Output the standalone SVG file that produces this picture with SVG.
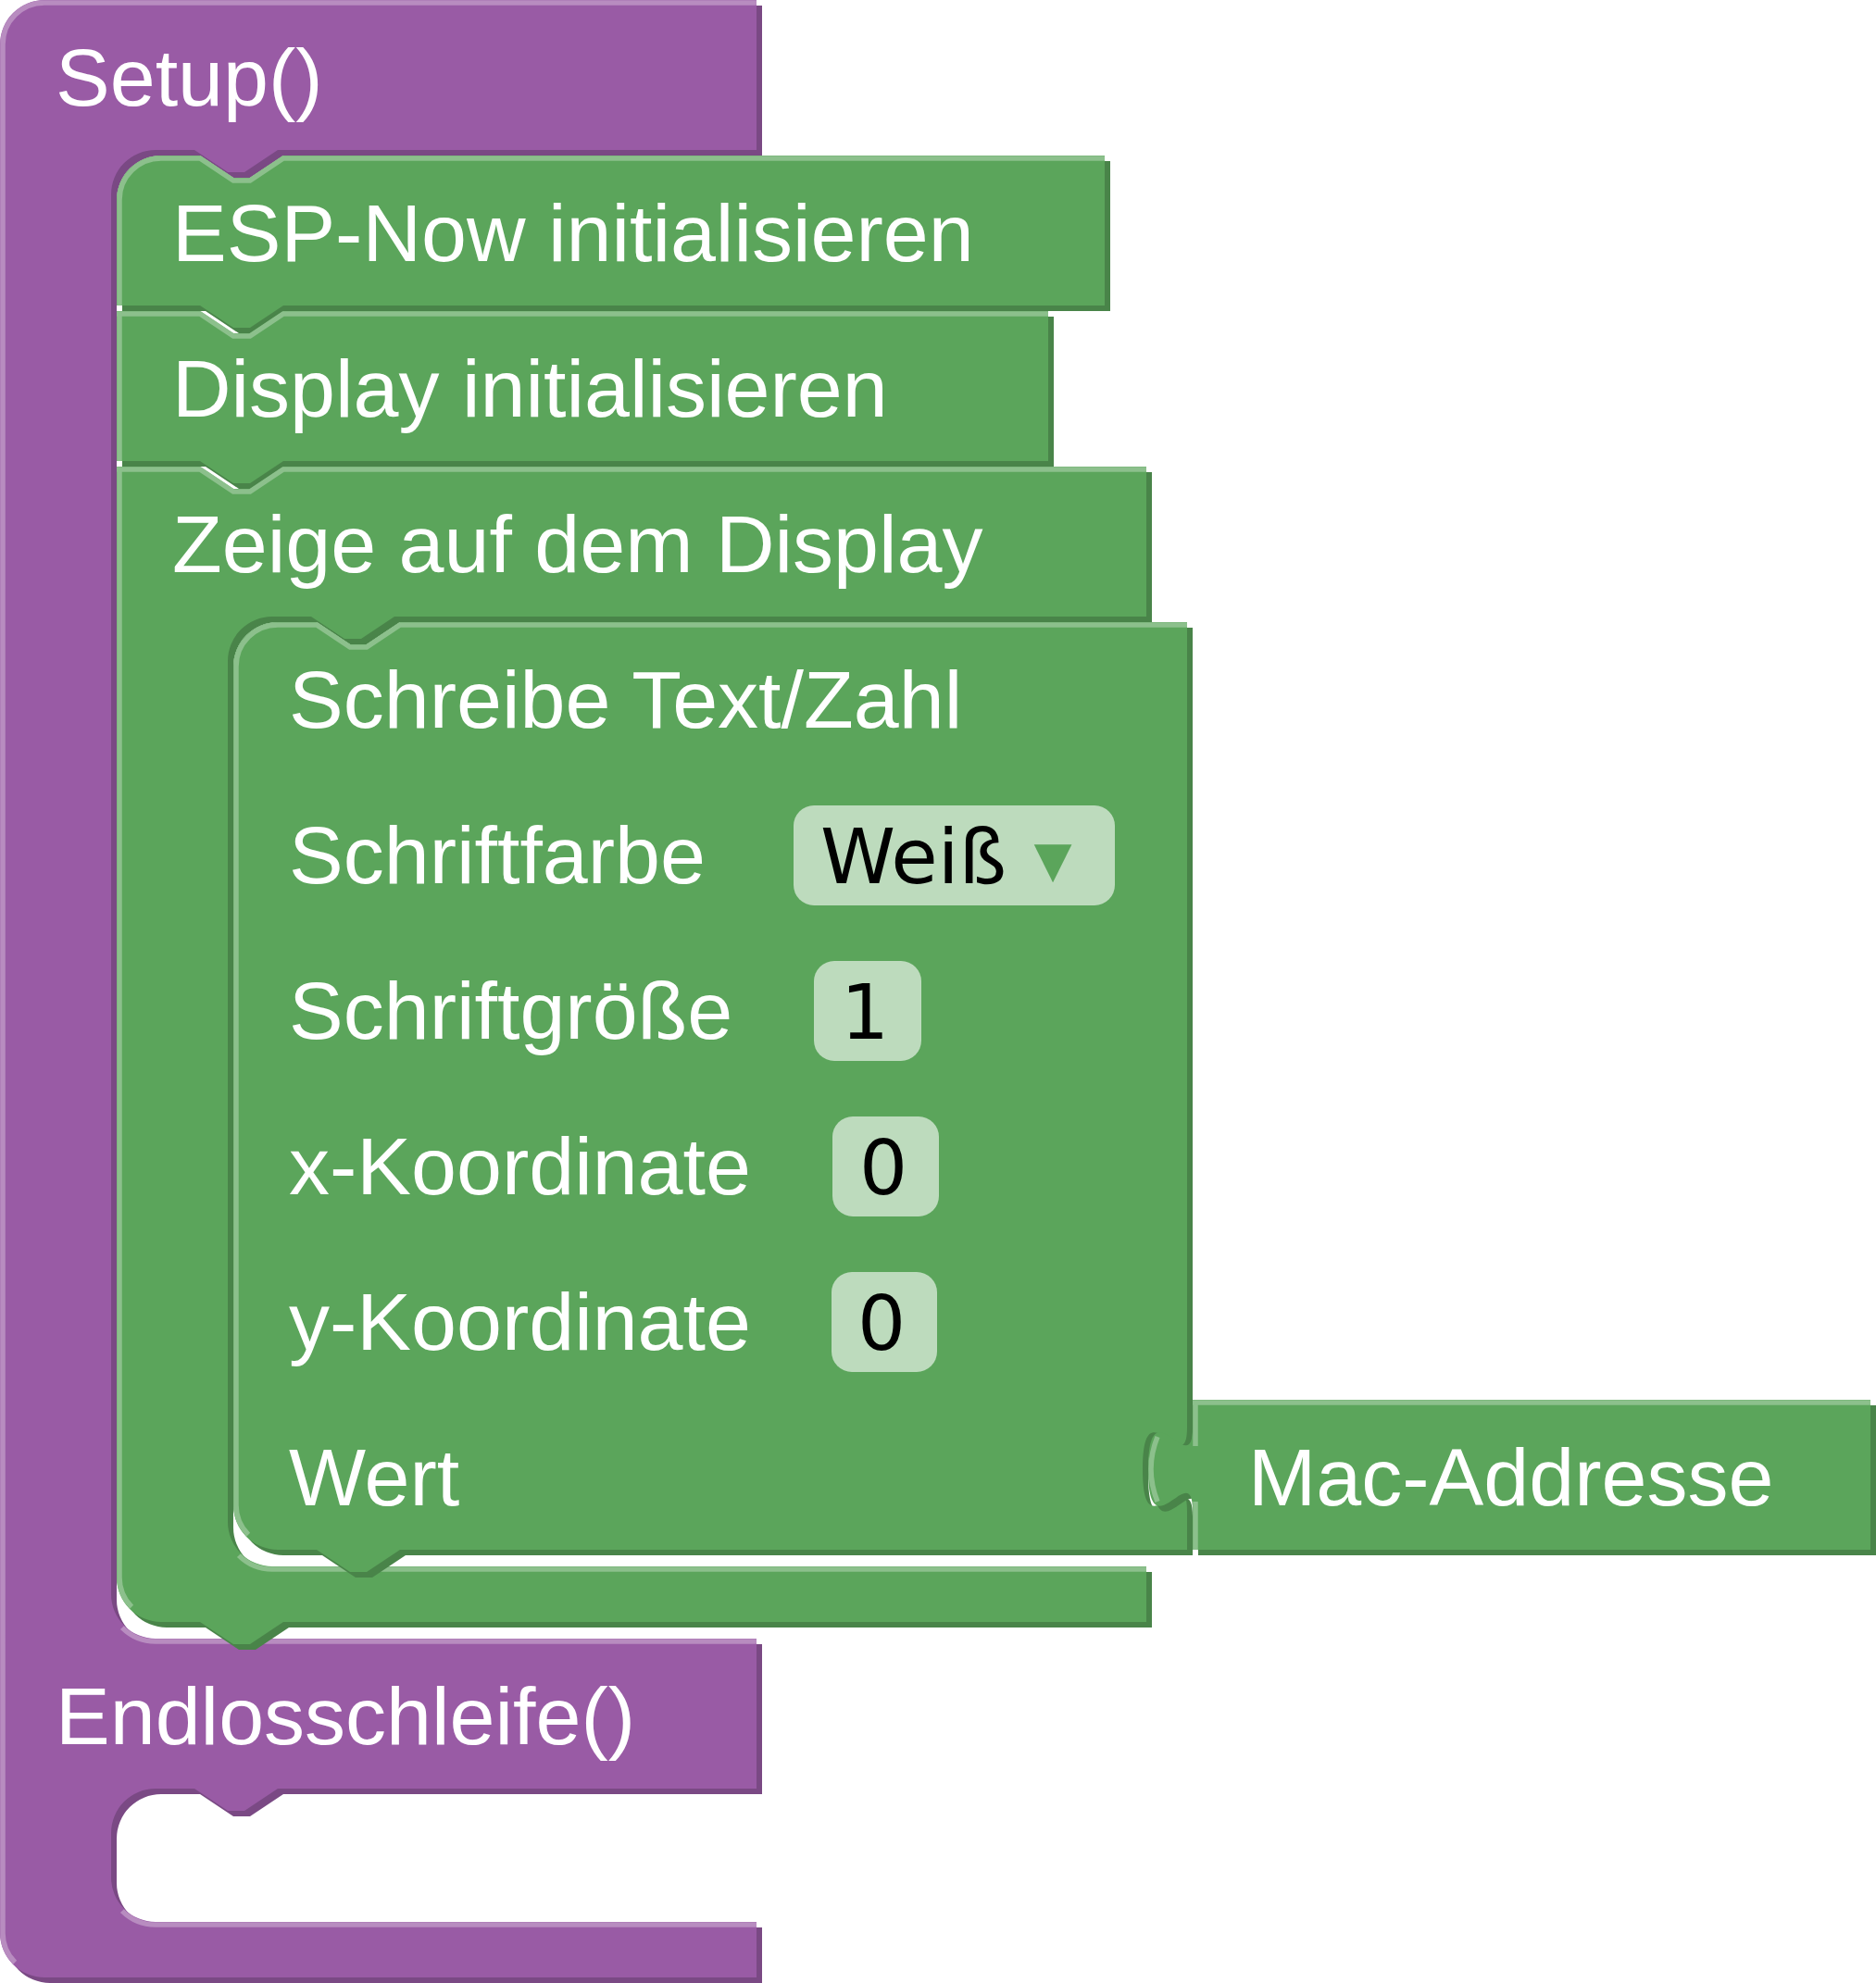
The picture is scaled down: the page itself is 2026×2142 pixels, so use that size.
<svg xmlns="http://www.w3.org/2000/svg" width="2026" height="2142" viewBox="0 0 2026 2142">
<style>
.pm{fill:#995ba5}
.pk{fill:#7a4984}
.ph{fill:none;stroke:#b88cc0;stroke-width:5.5}
.gm{fill:#5ba55b}
.gk{fill:#498449}
.gh{fill:none;stroke:#8cc08c;stroke-width:5.5}
.lbl{font-family:"Liberation Sans",Arial,sans-serif;font-size:88px;fill:#ffffff}
.fld{font-family:"DejaVu Sans","Liberation Sans",sans-serif;font-size:82px;fill:#000000}
.fbox{fill:#bddbbd}
.arr{font-family:"DejaVu Sans",sans-serif;font-size:82px;fill:#5ba55b}
</style>
<rect width="2026" height="2142" fill="#ffffff"/>
<defs>
<path id="setupShape" d="M 0,48 A 48 48 0 0 1 48,0 H 817 V 162 H 300 l -36,24 h -18 l -36,-24 H 168 A 48 48 0 0 0 120,210 V 1722 A 48 48 0 0 0 168,1770 H 817 V 1932 H 300 l -36,24 h -18 l -36,-24 H 168 A 48 48 0 0 0 120,1980 V 2028 A 48 48 0 0 0 168,2076 H 817 V 2136 H 48 A 48 48 0 0 1 0,2088 Z"/>
<path id="espShape" d="M 126,216 A 48 48 0 0 1 174,168 H 216 l 36,24 h 18 l 36,-24 H 1193 V 330 H 306 l -36,24 h -18 l -36,-24 H 126 Z"/>
<path id="dispShape" d="M 126,336 H 216 l 36,24 h 18 l 36,-24 H 1132 V 498 H 306 l -36,24 h -18 l -36,-24 H 126 Z"/>
<path id="zeigeShape" d="M 126,504 H 216 l 36,24 h 18 l 36,-24 H 1238 V 666 H 426 l -36,24 h -18 l -36,-24 H 294 A 48 48 0 0 0 246,714 V 1644 A 48 48 0 0 0 294,1692 H 1238 V 1752 H 306 l -36,24 h -18 l -36,-24 H 174 A 48 48 0 0 1 126,1704 Z"/>
<path id="schreibeShape" d="M 252,720 A 48 48 0 0 1 300,672 H 342 l 36,24 h 18 l 36,-24 H 1282 V 1542 c 0,60 -48,-48 -48,45 s 48,-15 48,45 V 1674 H 432 l -36,24 h -18 l -36,-24 H 300 A 48 48 0 0 1 252,1626 Z"/>
<path id="macShape" d="M 1288,1512 H 2020 V 1674 H 1288 V 1632 c 0,-60 -48,48 -48,-45 s 48,15 48,-45 Z"/>
</defs>

<g id="setup">
<use href="#setupShape" class="pk" transform="translate(6,6)"/>
<use href="#setupShape" class="pm"/>
<path class="ph" d="M 16.2,2119.8 A 45 45 0 0 1 3,2088 V 48 A 45 45 0 0 1 48,3 H 817 M 131.9,1758.1 A 51 51 0 0 0 168,1773 H 817 M 131.9,2064.1 A 51 51 0 0 0 168,2079 H 817"/>
<text class="lbl" x="60" y="114">Setup()</text>
<text class="lbl" x="60" y="1884">Endlosschleife()</text>
</g>

<g id="esp-now">
<use href="#espShape" class="gk" transform="translate(6,6)"/>
<use href="#espShape" class="gm"/>
<path class="gh" d="M 129,330 V 216 A 45 45 0 0 1 174,171 H 216 l 36,24 h 18 l 36,-24 H 1193"/>
<text class="lbl" x="186" y="282">ESP-Now initialisieren</text>
</g>

<g id="display-init">
<use href="#dispShape" class="gk" transform="translate(6,6)"/>
<use href="#dispShape" class="gm"/>
<path class="gh" d="M 129,498 V 339 M 126,339 H 216 l 36,24 h 18 l 36,-24 H 1132"/>
<text class="lbl" x="186" y="450">Display initialisieren</text>
</g>

<g id="zeige">
<use href="#zeigeShape" class="gk" transform="translate(6,6)"/>
<use href="#zeigeShape" class="gm"/>
<path class="gh" d="M 142.2,1735.8 A 45 45 0 0 1 129,1704 V 507 M 126,507 H 216 l 36,24 h 18 l 36,-24 H 1238 M 257.9,1680.1 A 51 51 0 0 0 294,1695 H 1238"/>
<text class="lbl" x="186" y="618">Zeige auf dem Display</text>
</g>

<g id="schreibe">
<use href="#schreibeShape" class="gk" transform="translate(6,6)"/>
<use href="#schreibeShape" class="gm"/>
<path class="gh" d="M 268.2,1657.8 A 45 45 0 0 1 255,1626 V 720 A 45 45 0 0 1 300,675 H 342 l 36,24 h 18 l 36,-24 H 1282"/>
<text class="lbl" x="312" y="786">Schreibe Text/Zahl</text>
<text class="lbl" x="312" y="954">Schriftfarbe</text>
<text class="lbl" x="312" y="1122">Schriftgröße</text>
<text class="lbl" x="312" y="1290">x-Koordinate</text>
<text class="lbl" x="312" y="1458">y-Koordinate</text>
<text class="lbl" x="312" y="1626">Wert</text>
<rect class="fbox" x="857" y="870" width="347" height="108" rx="22" ry="22"/>
<text class="fld" x="886" y="954">Weiß</text>
<text class="arr" x="1137" y="954" text-anchor="middle">▾</text>
<rect class="fbox" x="879" y="1038" width="116" height="108" rx="22" ry="22"/>
<text class="fld" x="934" y="1122" text-anchor="middle">1</text>
<rect class="fbox" x="899" y="1206" width="115" height="108" rx="22" ry="22"/>
<text class="fld" x="954" y="1290" text-anchor="middle">0</text>
<rect class="fbox" x="898" y="1374" width="114" height="108" rx="22" ry="22"/>
<text class="fld" x="952" y="1458" text-anchor="middle">0</text>
</g>

<g id="mac-addresse">
<use href="#macShape" class="gk" transform="translate(6,6)"/>
<use href="#macShape" class="gm"/>
<path class="gh" d="M 1288,1515 H 2020 M 1291,1674 V 1622 M 1291,1562 V 1515 M 1250,1552 Q 1236,1587 1250,1622"/>
<text class="lbl" x="1348" y="1626">Mac-Addresse</text>
</g>

<g id="connectors"></g>
</svg>
